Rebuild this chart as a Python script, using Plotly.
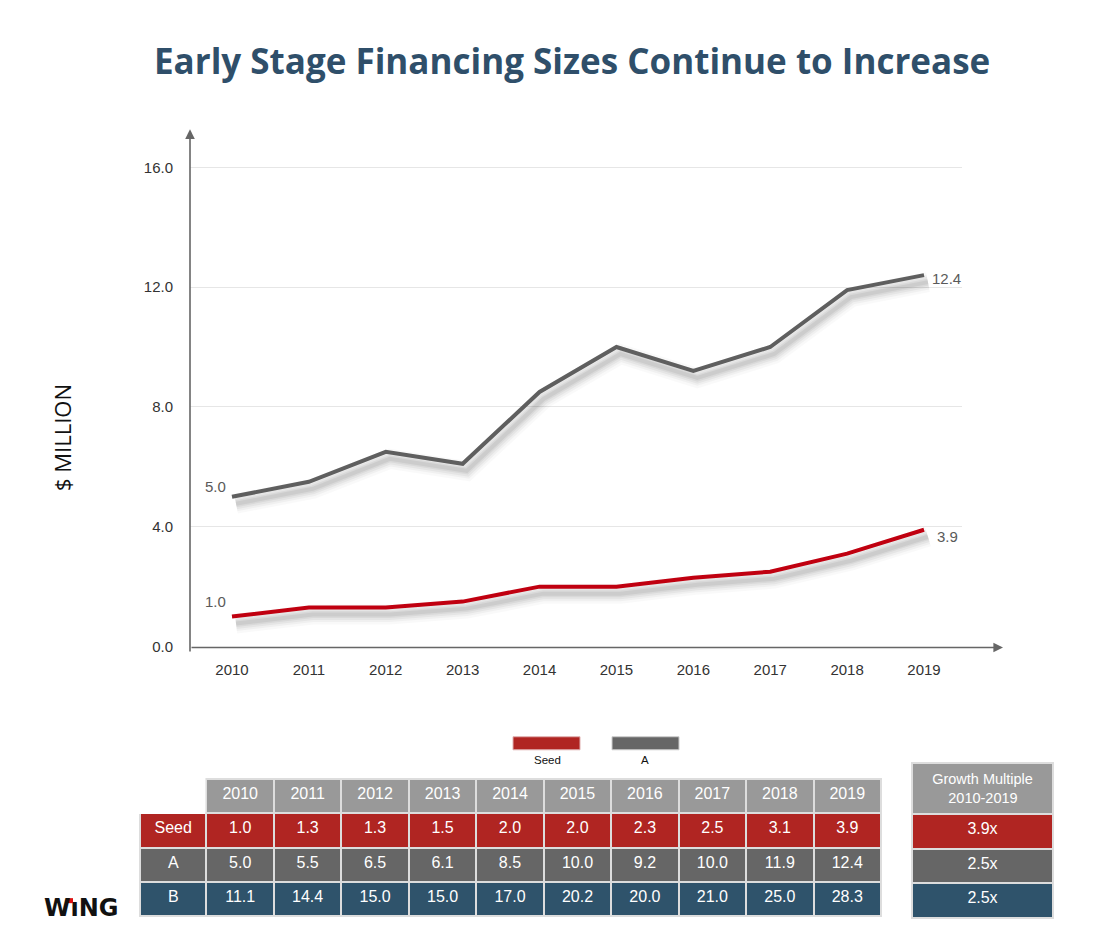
import plotly.graph_objects as go

# ---------------- data ----------------
years = [2010, 2011, 2012, 2013, 2014, 2015, 2016, 2017, 2018, 2019]
seed = [1.0, 1.3, 1.3, 1.5, 2.0, 2.0, 2.3, 2.5, 3.1, 3.9]
series_a = [5.0, 5.5, 6.5, 6.1, 8.5, 10.0, 9.2, 10.0, 11.9, 12.4]
series_b = [11.1, 14.4, 15.0, 15.0, 17.0, 20.2, 20.0, 21.0, 25.0, 28.3]
row_labels = ["Seed", "A", "B"]
growth = ["3.9x", "2.5x", "2.5x"]
growth_header = "Growth Multiple<br>\u00a0\u00a0\u00a0\u00a02010-2019"
y_ticks = [0, 4, 8, 12, 16]

TITLE = "Early Stage Financing Sizes Continue to Increase"
Y_TITLE = "$ MILLION"

# ---------------- styles ----------------
W, H = 1100, 940
SY = 1.011  # vertical calibration of layout positions
RED = "#c00010"
RED_T = "#b02522"
GRAY_L = "#5f5f5f"
GRAY_T = "#666666"
BLUE_T = "#2f536b"
HEAD = "#999999"
TITLE_C = "#2f4f6a"

def px(x):
    return x / W

def py(y):
    return (H - y * SY) / H

x_range = [2009.454, 2019.494]
y_range = [0, 17]
x_dom = [px(190), px(962)]
y_dom = [py(645), py(137)]
ux = (962 - 190) / (x_range[1] - x_range[0])
uy = (645 - 137) / (y_range[1] - y_range[0])

fig = go.Figure()

# soft drop shadows under the lines
for vals in (seed, series_a):
    for w, a in ((20, 0.025), (15, 0.035), (11, 0.045), (7, 0.05), (4, 0.06)):
        fig.add_trace(go.Scatter(
            x=[v + 4 / ux for v in years], y=[v - 7 / uy for v in vals],
            mode="lines", line=dict(color=f"rgba(0,0,0,{a})", width=w),
            hoverinfo="skip", showlegend=False))

fig.add_trace(go.Scatter(x=years, y=seed, mode="lines", name="Seed",
                         line=dict(color=RED, width=4), showlegend=False))
fig.add_trace(go.Scatter(x=years, y=series_a, mode="lines", name="A",
                         line=dict(color=GRAY_L, width=4), showlegend=False))

lab_font = dict(family="Liberation Sans, Arial", size=15, color="#5a5a5a")
ann = []
ann.append(dict(x=years[0], y=series_a[0], xref="x", yref="y", text=f"{series_a[0]:.1f}",
                showarrow=False, xanchor="right", yanchor="bottom", xshift=-4, yshift=0, font=lab_font))
ann.append(dict(x=years[0], y=seed[0], xref="x", yref="y", text=f"{seed[0]:.1f}",
                showarrow=False, xanchor="right", yanchor="bottom", xshift=-4, yshift=5, font=lab_font))
ann.append(dict(x=years[-1], y=series_a[-1], xref="x", yref="y", text=f"{series_a[-1]:.1f}",
                showarrow=False, xanchor="left", yanchor="middle", xshift=6, yshift=-3, font=lab_font))
ann.append(dict(x=years[-1], y=seed[-1], xref="x", yref="y", text=f"{seed[-1]:.1f}",
                showarrow=False, xanchor="left", yanchor="middle", xshift=11, yshift=-7, font=lab_font))

# title
ann.append(dict(x=px(572), y=py(60), xref="paper", yref="paper", text=f"<b>{TITLE}</b>",
                showarrow=False, xanchor="center", yanchor="middle",
                font=dict(family="Open Sans", size=35, color=TITLE_C)))
# y title
ann.append(dict(x=px(62), y=py(437), xref="paper", yref="paper", text=Y_TITLE, textangle=-90,
                showarrow=False, xanchor="center", yanchor="middle",
                font=dict(family="Open Sans", size=22, color="#111111")))
# axis arrows
ann.append(dict(x=px(190), y=py(129), xref="paper", yref="paper", text="", showarrow=True,
                ax=0, ay=518 * SY, arrowhead=2, arrowsize=1.2, arrowwidth=1.6, arrowcolor="#666666"))
ann.append(dict(x=px(1003), y=py(646), xref="paper", yref="paper", text="", showarrow=True,
                ax=-813, ay=0, arrowhead=2, arrowsize=1.2, arrowwidth=1.6, arrowcolor="#666666"))
# legend
leg_font = dict(family="Liberation Sans, Arial", size=11.5, color="#111111")
ann.append(dict(x=px(547), y=py(758), xref="paper", yref="paper", text="Seed",
                showarrow=False, yanchor="middle", font=leg_font))
ann.append(dict(x=px(645), y=py(758), xref="paper", yref="paper", text="A",
                showarrow=False, yanchor="middle", font=leg_font))
# logo
ann.append(dict(x=px(42), y=py(906), xref="paper", yref="paper", text="<b>W\u0131NG</b>",
                showarrow=False, xanchor="left", yanchor="middle",
                font=dict(family="DejaVu Sans", size=24, color="#111111")))

shapes = [
    dict(type="rect", xref="paper", yref="paper", x0=px(513), x1=px(580), y0=py(748), y1=py(735),
         fillcolor=RED_T, line=dict(color="#e0b0b0", width=1)),
    dict(type="rect", xref="paper", yref="paper", x0=px(612), x1=px(679), y0=py(748), y1=py(735),
         fillcolor=GRAY_T, line=dict(color="#cccccc", width=1)),
    dict(type="rect", xref="paper", yref="paper", x0=px(68), x1=px(73), y0=py(901), y1=py(896),
         fillcolor="#e01010", line=dict(width=0)),
]

# ---------------- table ----------------
row_colors = [RED_T, GRAY_T, BLUE_T]
tab_font = dict(family="Liberation Sans, Arial", size=16, color="white")
cols = [row_labels] + [[f"{s:.1f}", f"{a:.1f}", f"{b:.1f}"] for s, a, b in zip(seed, series_a, series_b)]
fig.add_trace(go.Table(
    domain=dict(x=[px(140), px(881)], y=[0, py(777)]),
    columnwidth=[66] + [67] * len(years),
    header=dict(values=[""] + [str(y) for y in years],
                fill_color=["white"] + [HEAD] * len(years),
                line=dict(color=["white"] + ["#dddddd"] * len(years), width=2),
                font=tab_font, align="center", height=34 * SY),
    cells=dict(values=cols,
               fill_color=[row_colors] * (len(years) + 1),
               line=dict(color="#dddddd", width=2),
               font=tab_font, align="center", height=34 * SY),
))
fig.add_trace(go.Table(
    domain=dict(x=[px(912), px(1054)], y=[0, py(761)]),
    header=dict(values=[growth_header], fill_color=HEAD,
                line=dict(color="#dddddd", width=2),
                font=dict(family="Liberation Sans, Arial", size=14.5, color="white"),
                align="center", height=51 * SY),
    cells=dict(values=[growth], fill_color=[row_colors],
               line=dict(color="#dddddd", width=2),
               font=tab_font, align="center", height=34 * SY),
))

fig.update_layout(
    width=W, height=H, margin=dict(l=0, r=0, t=0, b=0),
    paper_bgcolor="white", plot_bgcolor="white",
    showlegend=False, annotations=ann, shapes=shapes,
    xaxis=dict(domain=x_dom, range=x_range, tickvals=years, ticktext=[str(y) for y in years],
               showgrid=False, zeroline=False, showline=False, ticks="",
               ticklabelstandoff=12,
               tickfont=dict(family="Liberation Sans, Arial", size=15, color="#333333")),
    yaxis=dict(domain=y_dom, range=y_range, tickvals=y_ticks, ticktext=[f"{v:.1f}" for v in y_ticks],
               showgrid=True, gridcolor="#e6e6e6", gridwidth=1, zeroline=False, showline=False,
               ticks="", ticklabelstandoff=16,
               tickfont=dict(family="Liberation Sans, Arial", size=15, color="#333333")),
)

fig.write_html("out.html", config={"displayModeBar": False},
               post_script="document.body.style.margin='0';")
